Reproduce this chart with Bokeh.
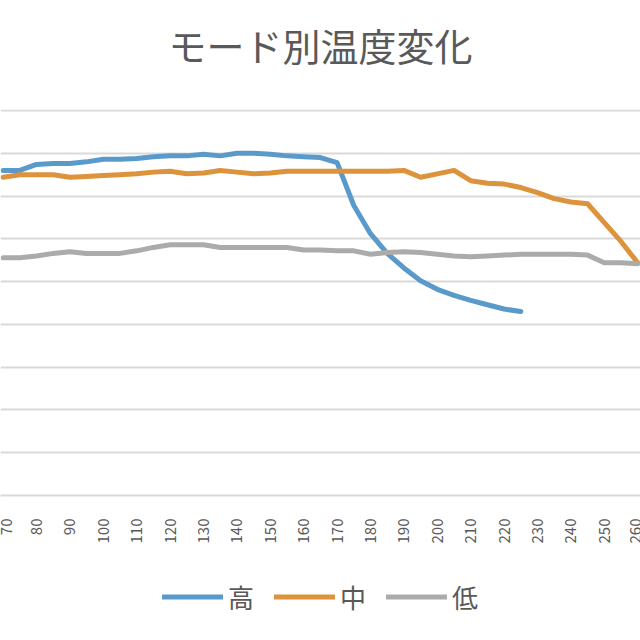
import math
from bokeh.plotting import figure
from bokeh.layouts import column
from bokeh.models import Range1d, FixedTicker, Legend, LegendItem
from bokeh.embed import file_html
from bokeh.resources import INLINE

chart_title = "モード別温度変化"
x_values = list(range(70, 265, 5))
x_ticks = list(range(70, 270, 10))
y_grid = list(range(0, 50, 5))

series_names = ["高", "中", "低"]
high = [38.0, 38.0, 38.7, 38.8, 38.8, 39.0, 39.3, 39.3, 39.4, 39.6,
        39.7, 39.7, 39.9, 39.7, 40.0, 40.0, 39.9, 39.7, 39.6, 39.5,
        38.9, 33.9, 30.6, 28.3, 26.6, 25.1, 24.1, 23.4, 22.8, 22.3,
        21.8, 21.5]
mid = [37.2, 37.5, 37.5, 37.5, 37.2, 37.3, 37.4, 37.5, 37.6, 37.8,
       37.9, 37.6, 37.7, 38.0, 37.8, 37.6, 37.7, 37.9, 37.9, 37.9,
       37.9, 37.9, 37.9, 37.9, 38.0, 37.2, 37.6, 38.0, 36.8, 36.5,
       36.4, 36.0, 35.4, 34.7, 34.3, 34.1, 31.9, 29.7, 27.2]
low = [27.8, 27.8, 28.0, 28.3, 28.5, 28.3, 28.3, 28.3, 28.6, 29.0,
       29.3, 29.3, 29.3, 29.0, 29.0, 29.0, 29.0, 29.0, 28.7, 28.7,
       28.6, 28.6, 28.2, 28.4, 28.5, 28.4, 28.2, 28.0, 27.9, 28.0,
       28.1, 28.2, 28.2, 28.2, 28.2, 28.1, 27.2, 27.2, 27.1]
colors = ["#599ACB", "#DC933C", "#ABABAB"]

FONT = "Noto Sans CJK JP"
TEXT_COLOR = "#595959"

# title strip
tf = figure(width=640, height=109, output_backend="svg", toolbar_location=None,
            x_range=Range1d(0, 1), y_range=Range1d(0, 1),
            min_border_left=0, min_border_right=0, min_border_top=0, min_border_bottom=0)
tf.axis.visible = False
tf.grid.visible = False
tf.outline_line_color = None
tf.title.text = chart_title
tf.title.align = "center"
tf.title.vertical_align = "top"
tf.title.text_font = FONT
tf.title.text_font_size = "38px"
tf.title.text_font_style = "normal"
tf.title.text_color = TEXT_COLOR
tf.title.standoff = 32

# main chart
p = figure(width=640, height=443, output_backend="svg", toolbar_location=None,
           x_range=Range1d(69.22, 260.84), y_range=Range1d(0, 45.12),
           min_border_left=0, min_border_right=0, min_border_top=0, min_border_bottom=57)
p.outline_line_color = None
p.background_fill_color = "white"
p.border_fill_color = "white"

p.yaxis.visible = False
p.ygrid.ticker = FixedTicker(ticks=y_grid)
p.ygrid.grid_line_color = "#D9D9D9"
p.ygrid.grid_line_width = 2
p.xgrid.grid_line_color = None

p.xaxis.ticker = FixedTicker(ticks=x_ticks)
p.xaxis.major_label_orientation = math.pi / 2
p.xaxis.major_label_text_font = FONT
p.xaxis.major_label_text_font_size = "15px"
p.xaxis.major_label_text_color = TEXT_COLOR
p.xaxis.major_label_standoff = 17
p.xaxis.major_tick_line_color = None
p.xaxis.minor_tick_line_color = None
p.xaxis.axis_line_color = "#D9D9D9"
p.xaxis.axis_line_width = 2

for ys, col in zip([high, mid, low], colors):
    p.line(x_values[:len(ys)], ys, line_color=col, line_width=5,
           line_join="round", line_cap="round")

# legend strip below the chart (its own copies of the series fall outside its view)
lg = figure(width=640, height=88, output_backend="svg", toolbar_location=None,
            x_range=Range1d(0, 1), y_range=Range1d(0, 1),
            min_border_left=0, min_border_right=0, min_border_top=0, min_border_bottom=0)
lg.axis.visible = False
lg.grid.visible = False
lg.outline_line_color = None
items = []
for name, ys, col in zip(series_names, [high, mid, low], colors):
    r = lg.line(x_values[:len(ys)], ys, line_color=col, line_width=5, line_cap="round")
    items.append(LegendItem(label=name, renderers=[r]))
legend = Legend(items=items, orientation="horizontal", location="center",
                label_text_font=FONT, label_text_font_size="26px",
                label_text_color=TEXT_COLOR, glyph_width=61, glyph_height=30,
                label_standoff=5, spacing=20, border_line_color=None,
                background_fill_alpha=0, padding=5, margin=0)
lg.add_layout(legend, "center")

layout = column(tf, p, lg, spacing=0)
open("out.html", "w").write(file_html(layout, INLINE))
